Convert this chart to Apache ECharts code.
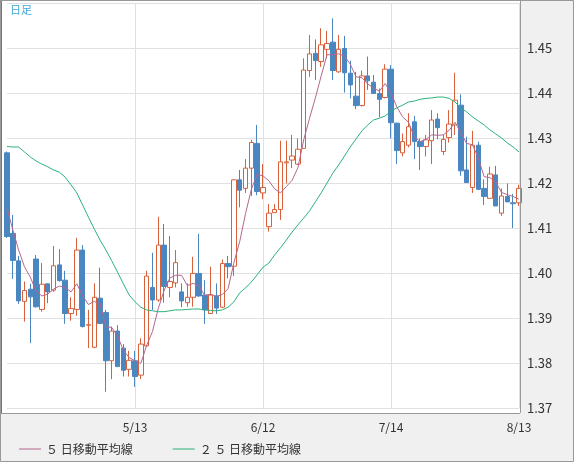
<!DOCTYPE html>
<html><head><meta charset="utf-8">
<script src="https://cdn.jsdelivr.net/npm/echarts@6/dist/echarts.min.js"></script>
<style>html,body{margin:0;padding:0;background:#f0f0f0}#c{width:574px;height:462px}</style>
</head><body><div id="c"></div>
<script>
// OHLC: [open, close, low, high]
const opens  = [1.4267,1.4088,1.4027,1.3937,1.3964,1.4031,1.3919,1.3976,1.3962,1.4018,1.3984,1.3910,1.3919,1.4051,1.3884,1.3835,1.3944,1.3912,1.3805,1.3871,1.3833,1.3786,1.3805,1.3773,1.3838,1.3968,1.3940,1.4062,1.3968,1.3978,1.3958,1.3934,1.3946,1.3999,1.3951,1.3910,1.3949,1.3924,1.4021,1.4015,1.4207,1.4188,1.4233,1.4288,1.4178,1.4103,1.4134,1.4141,1.4245,1.4251,1.4242,1.4277,1.4450,1.4488,1.4470,1.4497,1.4513,1.4447,1.4499,1.4444,1.4393,1.4372,1.4438,1.4424,1.4399,1.4390,1.4453,1.4333,1.4267,1.4284,1.4336,1.4292,1.4281,1.4294,1.4342,1.4270,1.4301,1.4329,1.4373,1.4229,1.4190,1.4284,1.4188,1.4166,1.4218,1.4133,1.4170,1.4156,1.4156];
const closes = [1.4081,1.4028,1.3938,1.3961,1.3947,1.3925,1.3975,1.3958,1.4016,1.3983,1.3910,1.3921,1.4051,1.3881,1.3885,1.3946,1.3888,1.3805,1.3871,1.3792,1.3784,1.3806,1.3770,1.3842,1.3993,1.3940,1.4062,1.3970,1.3981,1.4023,1.3938,1.3946,1.3999,1.3949,1.3918,1.3951,1.3922,1.4021,1.4014,1.4207,1.4184,1.4233,1.4290,1.4181,1.4190,1.4133,1.4141,1.4247,1.4247,1.4260,1.4275,1.4451,1.4487,1.4472,1.4507,1.4510,1.4450,1.4497,1.4445,1.4418,1.4372,1.4438,1.4427,1.4399,1.4386,1.4453,1.4334,1.4272,1.4292,1.4325,1.4292,1.4281,1.4296,1.4340,1.4323,1.4297,1.4331,1.4384,1.4227,1.4201,1.4284,1.4186,1.4170,1.4220,1.4149,1.4171,1.4158,1.4154,1.4188];
const lows   = [1.4078,1.3987,1.3931,1.3892,1.3844,1.3923,1.3914,1.3933,1.3958,1.3981,1.3887,1.3894,1.3905,1.3879,1.3833,1.3833,1.3888,1.3736,1.3764,1.3792,1.3770,1.3770,1.3747,1.3764,1.3836,1.3918,1.3936,1.3934,1.3946,1.3968,1.3924,1.3925,1.3925,1.3947,1.3887,1.3910,1.3909,1.3922,1.3988,1.3993,1.4146,1.4178,1.4171,1.4173,1.4164,1.4092,1.4134,1.4118,1.4199,1.4233,1.4240,1.4277,1.4436,1.4429,1.4458,1.4477,1.4429,1.4445,1.4401,1.4388,1.4364,1.4370,1.4407,1.4398,1.4346,1.4388,1.4299,1.4242,1.4259,1.4279,1.4253,1.4229,1.4259,1.4242,1.4297,1.4262,1.4290,1.4307,1.4216,1.4201,1.4178,1.4184,1.4151,1.4166,1.4149,1.4127,1.4158,1.4100,1.4149];
const highs  = [1.4270,1.4129,1.4038,1.3981,1.3976,1.4040,1.4022,1.3976,1.4060,1.4053,1.4005,1.3946,1.4078,1.4062,1.3918,1.3977,1.4012,1.3918,1.3881,1.3884,1.3842,1.3827,1.3827,1.3855,1.4005,1.4045,1.4125,1.4109,1.4082,1.4051,1.3977,1.3977,1.4036,1.4087,1.3984,1.4014,1.3977,1.4030,1.4038,1.4208,1.4229,1.4253,1.4296,1.4329,1.4242,1.4153,1.4153,1.4294,1.4294,1.4307,1.4299,1.4477,1.4529,1.4519,1.4544,1.4538,1.4566,1.4529,1.4527,1.4472,1.4447,1.4450,1.4481,1.4440,1.4410,1.4464,1.4462,1.4334,1.4310,1.4355,1.4349,1.4299,1.4307,1.4362,1.4355,1.4307,1.4362,1.4445,1.4397,1.4303,1.4316,1.4292,1.4208,1.4236,1.4238,1.4188,1.4199,1.4176,1.4196];
const ma5Head = [1.4144,1.4096,1.4051,1.4014];
const ma25 = [1.4281,1.4280,1.4280,1.4269,1.4258,1.4249,1.4242,1.4236,1.4229,1.4224,1.4213,1.4196,1.4178,1.4151,1.4124,1.4098,1.4073,1.4051,1.4027,1.4002,1.3976,1.3951,1.3936,1.3924,1.3918,1.3916,1.3914,1.3914,1.3916,1.3918,1.3918,1.3919,1.3920,1.3920,1.3918,1.3917,1.3916,1.3918,1.3924,1.3936,1.3956,1.3967,1.3980,1.3996,1.4013,1.4022,1.4040,1.4056,1.4073,1.4091,1.4107,1.4122,1.4138,1.4158,1.4178,1.4200,1.4222,1.4240,1.4260,1.4280,1.4298,1.4316,1.4329,1.4340,1.4344,1.4349,1.4360,1.4367,1.4373,1.4380,1.4382,1.4386,1.4388,1.4389,1.4391,1.4391,1.4388,1.4380,1.4367,1.4358,1.4347,1.4338,1.4329,1.4318,1.4309,1.4300,1.4289,1.4280,1.4269];
const shownDates = ['5/13','6/12','7/14','8/13'];
const yTicks = [1.37,1.38,1.39,1.40,1.41,1.42,1.43,1.44,1.45];

const n = closes.length;
// trading-day categories ending 2014-08-13
const dates = [];
{ let d = new Date(2014,7,13);
  while (dates.length < n) { const w=d.getDay(); if (w!==0&&w!==6) dates.unshift((d.getMonth()+1)+'/'+d.getDate()); d.setDate(d.getDate()-1); } }
const ohlc = opens.map((o,i)=>[o,closes[i],lows[i],highs[i]]);
const ma5 = closes.map((c,i)=> i<4 ? ma5Head[i] : +((closes[i]+closes[i-1]+closes[i-2]+closes[i-3]+closes[i-4])/5).toFixed(4));

const F = '"Noto Sans CJK JP", "DejaVu Sans Mono", sans-serif';
const show = (i,v)=>shownDates.includes(dates[i]);
const chart = echarts.init(document.getElementById('c'));
chart.setOption({
  backgroundColor:'#f0f0f0',
  animation:false,
  graphic:[
    {type:'rect',z:-10,shape:{x:1,y:0,width:519,height:413},style:{fill:'#fff'}},
    {type:'line',z:10,shape:{x1:1,y1:0,x2:1,y2:413},style:{stroke:'#777',lineWidth:2}},
    {type:'line',z:10,shape:{x1:520.5,y1:0,x2:520.5,y2:413},style:{stroke:'#999',lineWidth:1}},
    {type:'line',z:10,shape:{x1:1,y1:413.5,x2:520,y2:413.5},style:{stroke:'#999',lineWidth:1}},
    {type:'rect',z:10,shape:{x:0.5,y:0.5,width:573,height:461},style:{fill:'none',stroke:'#999',lineWidth:1}},
    {type:'text',left:10,top:4,style:{text:'日足',fill:'#3fa9d8',font:'11px '+F}}
  ],
  grid:{left:7,right:55,top:3,bottom:54,containLabel:false},
  legend:{left:14,top:438,itemWidth:22,itemHeight:1,itemGap:40,icon:'rect',
    textStyle:{fontFamily:F,fontSize:12,color:'#333'},
    data:['５ 日移動平均線','２ ５ 日移動平均線']},
  xAxis:{type:'category',data:dates,boundaryGap:false,
    axisLine:{show:false},axisTick:{show:false},
    axisLabel:{interval:show,margin:13,fontFamily:F,fontSize:12,color:'#333',showMinLabel:true,showMaxLabel:true},
    splitLine:{show:true,interval:show,lineStyle:{color:'#e0e0e0'}}},
  yAxis:{type:'value',position:'right',min:1.37,max:1.46,interval:0.01,scale:true,
    axisLine:{show:false},axisTick:{show:false},
    axisLabel:{margin:8,fontFamily:F,fontSize:13,color:'#333',
      formatter:v=> yTicks.some(t=>Math.abs(t-v)<1e-6) ? v.toFixed(2) : ''},
    splitLine:{lineStyle:{color:'#e0e0e0'}}},
  series:[
    {type:'candlestick',data:ohlc,barWidth:5,
      itemStyle:{color:'#ffffff',color0:'#4a86c0',borderColor:'#d8603a',borderColor0:'#4a86c0',borderWidth:1}},
    {name:'５ 日移動平均線',type:'line',data:ma5,symbol:'none',lineStyle:{color:'#b5678f',width:1},itemStyle:{color:'#b5678f'}},
    {name:'２ ５ 日移動平均線',type:'line',data:ma25,symbol:'none',lineStyle:{color:'#2ab27b',width:1},itemStyle:{color:'#2ab27b'}}
  ]
});
</script></body></html>
